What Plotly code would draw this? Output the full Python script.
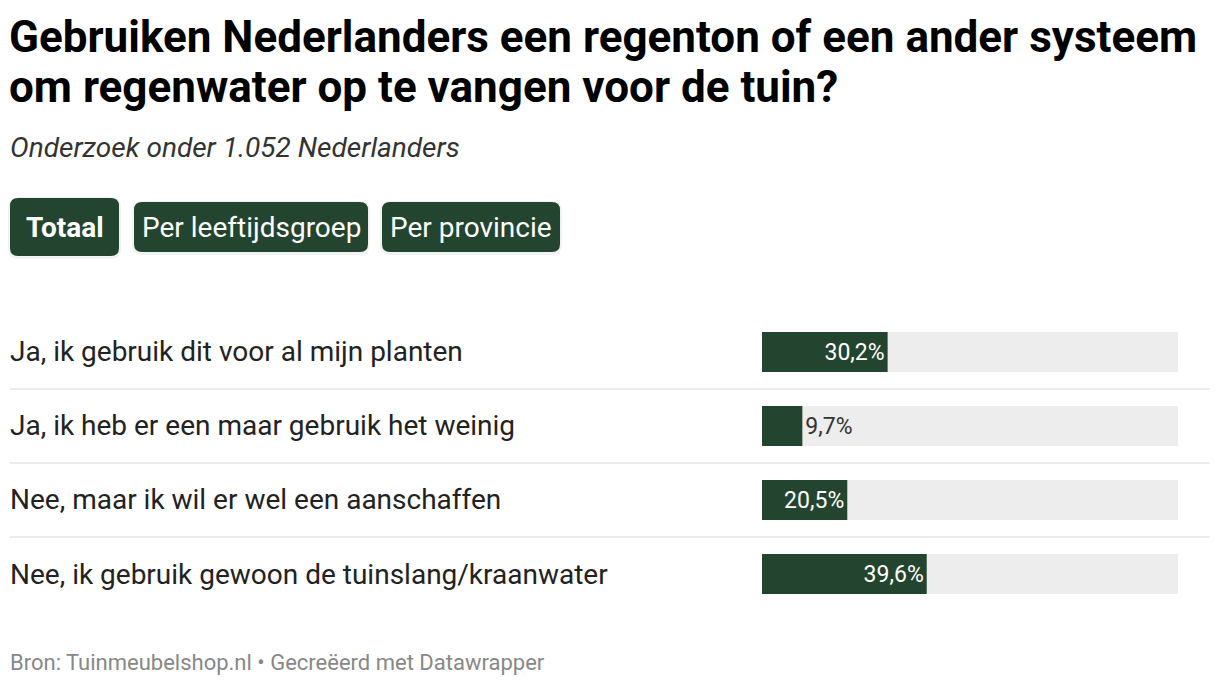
import plotly.graph_objects as go

# data
categories = [
    "Ja, ik gebruik dit voor al mijn planten",
    "Ja, ik heb er een maar gebruik het weinig",
    "Nee, maar ik wil er wel een aanschaffen",
    "Nee, ik gebruik gewoon de tuinslang/kraanwater",
]
values = [30.2, 9.7, 20.5, 39.6]
full_scale = [100, 100, 100, 100]
buttons = ["Totaal", "Per leeftijdsgroep", "Per provincie"]

title_lines = [
    "Gebruiken Nederlanders een regenton of een ander systeem",
    "om regenwater op te vangen voor de tuin?",
]
subtitle = "Onderzoek onder 1.052 Nederlanders"
footer = "Bron: Tuinmeubelshop.nl • Gecreëerd met Datawrapper"

W, H = 1220, 686
GREEN = "#234530"
FONT = "Roboto"


def px(x):
    return x / W


def py(y):
    return 1 - y / H


def rounded_rect(x0, y0, x1, y1, r):
    # path in paper units, input in pixels (y grows downward)
    pts = [
        f"M {px(x0 + r)},{py(y0)}",
        f"L {px(x1 - r)},{py(y0)}",
        f"Q {px(x1)},{py(y0)} {px(x1)},{py(y0 + r)}",
        f"L {px(x1)},{py(y1 - r)}",
        f"Q {px(x1)},{py(y1)} {px(x1 - r)},{py(y1)}",
        f"L {px(x0 + r)},{py(y1)}",
        f"Q {px(x0)},{py(y1)} {px(x0)},{py(y1 - r)}",
        f"L {px(x0)},{py(y0 + r)}",
        f"Q {px(x0)},{py(y0)} {px(x0 + r)},{py(y0)}",
        "Z",
    ]
    return " ".join(pts)


fig = go.Figure()

# grey background track
fig.add_trace(go.Bar(
    y=categories, x=full_scale, orientation="h",
    marker=dict(color="#ededed", line=dict(width=0)),
    width=0.54, hoverinfo="skip", showlegend=False,
))

# actual values
positions = ["inside" if v >= 15 else "outside" for v in values]
fig.add_trace(go.Bar(
    y=categories, x=values, orientation="h",
    marker=dict(color=GREEN, line=dict(width=0)),
    width=0.54,
    texttemplate="%{x:.1f}%",
    textposition=positions,
    insidetextanchor="end",
    insidetextfont=dict(family=FONT, size=23, color="white"),
    outsidetextfont=dict(family=FONT, size=23, color="#333333"),
    constraintext="none",
    cliponaxis=False,
    showlegend=False,
))

annotations = []
# title, subtitle, footer
for i, line in enumerate(title_lines):
    annotations.append(dict(
        text=f"<b>{line}</b>", x=px(7), y=py(37 + 50 * i),
        xref="paper", yref="paper", xanchor="left", yanchor="middle",
        showarrow=False, font=dict(family=FONT, size=44, color="#000000"),
    ))
annotations.append(dict(
    text=f"<i>{subtitle}</i>", x=px(8), y=py(147),
    xref="paper", yref="paper", xanchor="left", yanchor="middle",
    showarrow=False, font=dict(family=FONT, size=28, color="#333333"),
))
annotations.append(dict(
    text=footer, x=px(8), y=py(662),
    xref="paper", yref="paper", xanchor="left", yanchor="middle",
    showarrow=False, font=dict(family=FONT, size=22, color="#888888"),
))

# row labels
for cat in categories:
    annotations.append(dict(
        text=cat, x=px(8), y=cat,
        xref="paper", yref="y", xanchor="left", yanchor="middle",
        showarrow=False, font=dict(family=FONT, size=28, color="#222222"),
    ))

# buttons
shapes = []
button_boxes = [(10, 198, 119, 256), (134, 202, 368, 252), (382, 202, 560, 252)]
for i, (label, (x0, y0, x1, y1)) in enumerate(zip(buttons, button_boxes)):
    shapes.append(dict(
        type="path", path=rounded_rect(x0 - 2, y0 - 1, x1 + 2, y1 + 3, 10),
        xref="paper", yref="paper", fillcolor="rgba(0,0,0,0.05)",
        line=dict(width=0), layer="below",
    ))
    shapes.append(dict(
        type="path", path=rounded_rect(x0, y0, x1, y1, 8),
        xref="paper", yref="paper", fillcolor=GREEN,
        line=dict(width=0),
    ))
    txt = f"<b>{label}</b>" if i == 0 else label
    annotations.append(dict(
        text=txt, x=px((x0 + x1) / 2), y=py((y0 + y1) / 2),
        xref="paper", yref="paper", xanchor="center", yanchor="middle",
        showarrow=False, font=dict(family=FONT, size=28, color="white"),
    ))

# separators between rows
for k in range(len(categories) - 1):
    shapes.append(dict(
        type="line", xref="paper", yref="y",
        x0=px(10), x1=px(1210), y0=k + 0.5, y1=k + 0.5,
        line=dict(color="#e6e6e6", width=1.5),
    ))

fig.update_layout(
    width=W, height=H,
    margin=dict(l=0, r=0, t=0, b=0),
    paper_bgcolor="white", plot_bgcolor="white",
    barmode="overlay",
    separators=",.",
    font=dict(family=FONT),
    xaxis=dict(domain=[px(762), px(1178)], range=[0, 100],
               visible=False, fixedrange=True),
    yaxis=dict(domain=[py(611), py(315)], range=[len(categories) - 0.5, -0.5],
               categoryorder="array", categoryarray=categories,
               visible=False, fixedrange=True),
    shapes=shapes,
    annotations=annotations,
)

# page body has a default 8px margin; drop it so the figure sits at 0,0
fig.write_html("out.html", config={"displayModeBar": False},
               post_script="document.body.style.margin='0';")
